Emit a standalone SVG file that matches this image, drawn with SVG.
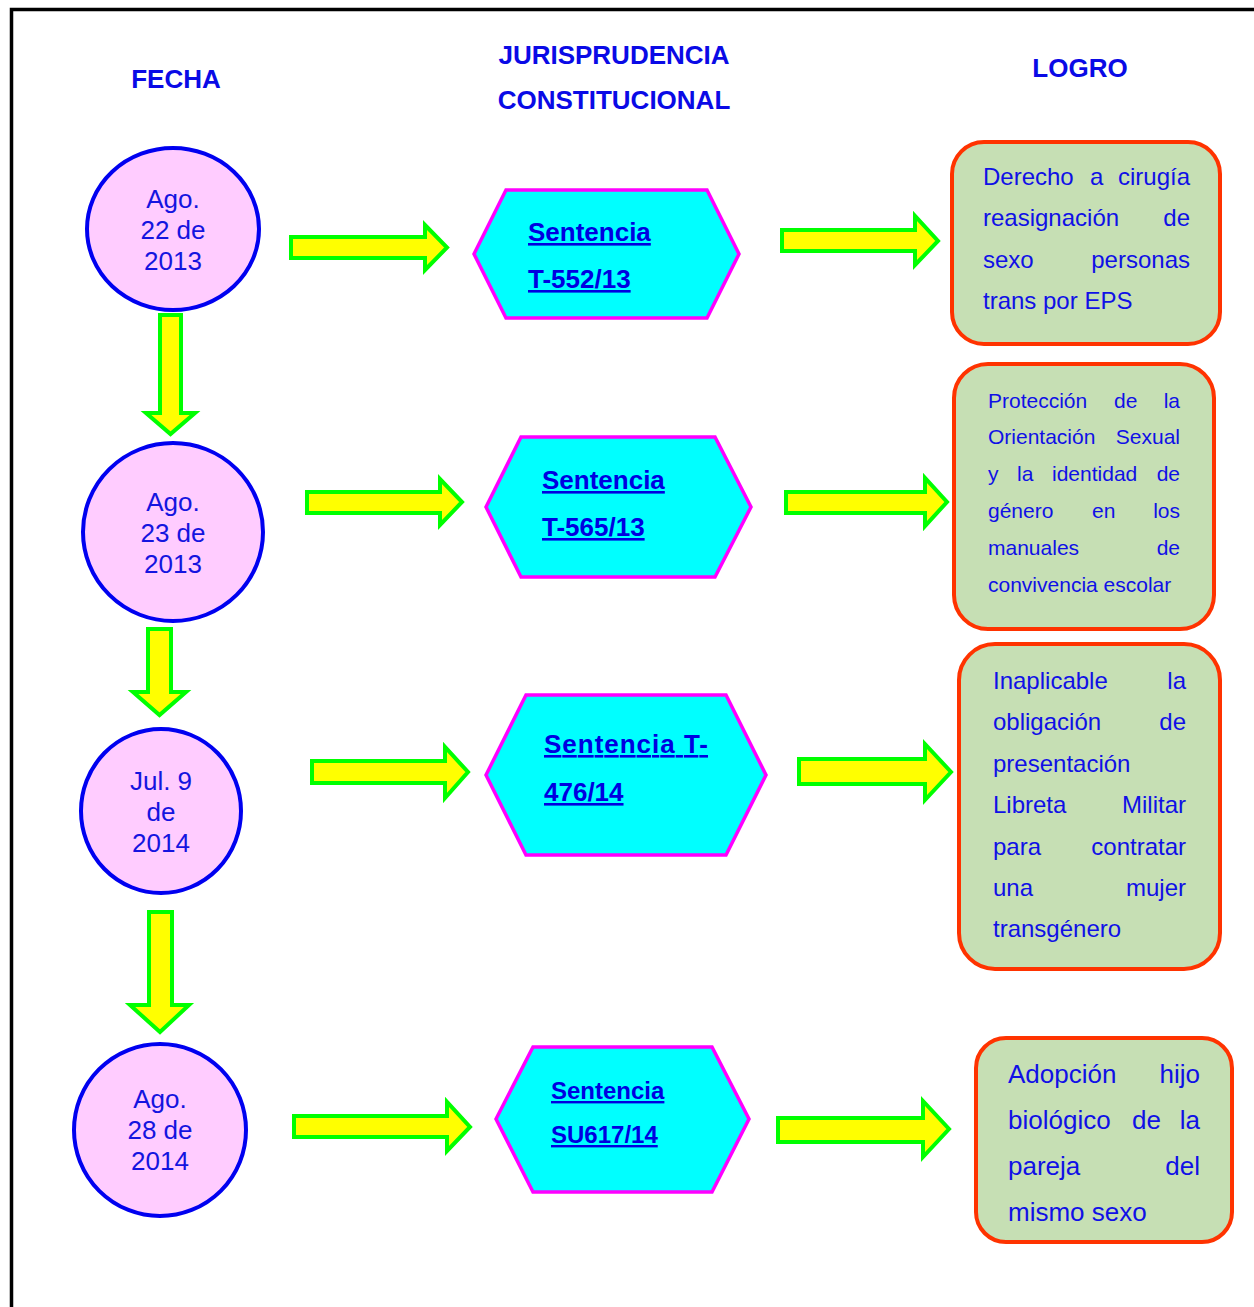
<svg xmlns="http://www.w3.org/2000/svg" width="1254" height="1307" viewBox="0 0 1254 1307">
<style>
.hdr{font-family:"Liberation Sans",Arial,sans-serif;font-weight:bold;font-size:26px;fill:#0A0AE6;text-anchor:middle}
.date ellipse{fill:#FFCCFF;stroke:#0000F0;stroke-width:4}
.date text{font-family:"Liberation Sans",Arial,sans-serif;font-size:26px;fill:#1414E0;text-anchor:middle}
.hex polygon{fill:#00FFFF;stroke:#FF00FF;stroke-width:3.5;stroke-linejoin:miter}
.hex text{font-family:"Liberation Sans",Arial,sans-serif;font-weight:bold;font-size:26px;fill:#0000E0;text-decoration:underline}
.logro rect{fill:#C6DFB4;stroke:#FF3300;stroke-width:4}
.logro text{font-family:"Liberation Sans",Arial,sans-serif;font-size:24px;fill:#1010E6}
.r{text-anchor:end}
.arr path{fill:#FFFF00;stroke:#00FF00;stroke-width:4;stroke-linejoin:miter}
</style>
<rect x="0" y="0" width="1254" height="1307" fill="#FFFFFF"/>
<path d="M11.5,1307 V9.5 H1254" fill="none" stroke="#000000" stroke-width="3.5"/>

<g id="headers">
<text class="hdr" x="176" y="88">FECHA</text>
<text class="hdr" x="614" y="64">JURISPRUDENCIA</text>
<text class="hdr" x="614" y="109">CONSTITUCIONAL</text>
<text class="hdr" x="1080" y="77">LOGRO</text>
</g>

<g id="connectors" class="arr">
<path d="M160,315 V413 H146 L170.5,434 L195,413 H181 V315 Z"/>
<path d="M148,629 V692 H133 L159.5,715 L186,692 H171 V629 Z"/>
<path d="M149,912 V1005 H130 L160,1032 L189,1005 H172 V912 Z"/>
<path d="M291,237 H425 V225 L447,247.5 L425,270 V258 H291 Z"/>
<path d="M782,230 H915 V216 L938,241 L915,265 V251 H782 Z"/>
<path d="M307,492 H440 V479 L462,502 L440,525 V513 H307 Z"/>
<path d="M786,492 H925 V478 L947,502 L925,526 V513 H786 Z"/>
<path d="M312,761 H445 V747 L468,772 L445,798 V783 H312 Z"/>
<path d="M799,759 H925 V744 L951,772 L925,800 V784 H799 Z"/>
<path d="M294,1116 H447 V1102 L470,1127 L447,1151 V1137 H294 Z"/>
<path d="M778,1118 H923 V1101 L949,1129 L923,1157 V1142 H778 Z"/>
</g>

<g id="date1" class="date">
<ellipse cx="173" cy="229" rx="86" ry="81"/>
<text x="173" y="208">Ago.</text>
<text x="173" y="239">22 de</text>
<text x="173" y="270">2013</text>
</g>
<g id="date2" class="date">
<ellipse cx="173" cy="532" rx="90" ry="89"/>
<text x="173" y="511">Ago.</text>
<text x="173" y="542">23 de</text>
<text x="173" y="573">2013</text>
</g>
<g id="date3" class="date">
<ellipse cx="161" cy="811" rx="80" ry="82"/>
<text x="161" y="790">Jul. 9</text>
<text x="161" y="821">de</text>
<text x="161" y="852">2014</text>
</g>
<g id="date4" class="date">
<ellipse cx="160" cy="1130" rx="86" ry="86"/>
<text x="160" y="1108">Ago.</text>
<text x="160" y="1139">28 de</text>
<text x="160" y="1170">2014</text>
</g>

<g id="sent1" class="hex">
<polygon points="474,254 506,190 707,190 739,254 707,318 506,318"/>
<text x="528" y="241">Sentencia</text>
<text x="528" y="288">T-552/13</text>
</g>
<g id="sent2" class="hex">
<polygon points="486,507 521,437 715,437 751,507 715,577 521,577"/>
<text x="542" y="489">Sentencia</text>
<text x="542" y="536">T-565/13</text>
</g>
<g id="sent3" class="hex">
<polygon points="486,775 526,695 726,695 766,775 726,855 526,855"/>
<text x="544" y="753" textLength="164" lengthAdjust="spacing">Sentencia  T-</text>
<text x="544" y="801">476/14</text>
</g>
<g id="sent4" class="hex">
<polygon points="496,1119 533,1047 712,1047 749,1119 712,1192 533,1192"/>
<text x="551" y="1099" style="font-size:24px">Sentencia</text>
<text x="551" y="1143" style="font-size:24px">SU617/14</text>
</g>

<g id="logro1" class="logro">
<rect x="952" y="142" width="268" height="202" rx="32" ry="32"/>
<text x="983" y="185">Derecho</text><text x="1090" y="185">a</text><text class="r" x="1190" y="185">cirugía</text>
<text x="983" y="226">reasignación</text><text class="r" x="1190" y="226">de</text>
<text x="983" y="268">sexo</text><text class="r" x="1190" y="268">personas</text>
<text x="983" y="309">trans por EPS</text>
</g>
<g id="logro2" class="logro">
<rect x="954" y="364" width="260" height="265" rx="34" ry="34"/>
<g style="font-size:21px">
<text x="988" y="408" style="font-size:21px">Protección</text><text x="1114" y="408" style="font-size:21px">de</text><text class="r" x="1180" y="408" style="font-size:21px">la</text>
<text x="988" y="444" style="font-size:21px">Orientación</text><text class="r" x="1180" y="444" style="font-size:21px">Sexual</text>
<text x="988" y="481" style="font-size:21px">y</text><text x="1017" y="481" style="font-size:21px">la</text><text x="1052" y="481" style="font-size:21px">identidad</text><text class="r" x="1180" y="481" style="font-size:21px">de</text>
<text x="988" y="518" style="font-size:21px">género</text><text x="1092" y="518" style="font-size:21px">en</text><text class="r" x="1180" y="518" style="font-size:21px">los</text>
<text x="988" y="555" style="font-size:21px">manuales</text><text class="r" x="1180" y="555" style="font-size:21px">de</text>
<text x="988" y="592" style="font-size:21px">convivencia escolar</text>
</g>
</g>
<g id="logro3" class="logro">
<rect x="959" y="644" width="261" height="325" rx="36" ry="36"/>
<text x="993" y="689">Inaplicable</text><text class="r" x="1186" y="689">la</text>
<text x="993" y="730">obligación</text><text class="r" x="1186" y="730">de</text>
<text x="993" y="772">presentación</text>
<text x="993" y="813">Libreta</text><text class="r" x="1186" y="813">Militar</text>
<text x="993" y="855">para</text><text class="r" x="1186" y="855">contratar</text>
<text x="993" y="896">una</text><text class="r" x="1186" y="896">mujer</text>
<text x="993" y="937">transgénero</text>
</g>
<g id="logro4" class="logro">
<rect x="976" y="1038" width="256" height="204" rx="30" ry="30"/>
<text x="1008" y="1083" style="font-size:26px">Adopción</text><text class="r" x="1200" y="1083" style="font-size:26px">hijo</text>
<text x="1008" y="1129" style="font-size:26px">biológico</text><text x="1132" y="1129" style="font-size:26px">de</text><text class="r" x="1200" y="1129" style="font-size:26px">la</text>
<text x="1008" y="1175" style="font-size:26px">pareja</text><text class="r" x="1200" y="1175" style="font-size:26px">del</text>
<text x="1008" y="1221" style="font-size:26px">mismo sexo</text>
</g>
</svg>
